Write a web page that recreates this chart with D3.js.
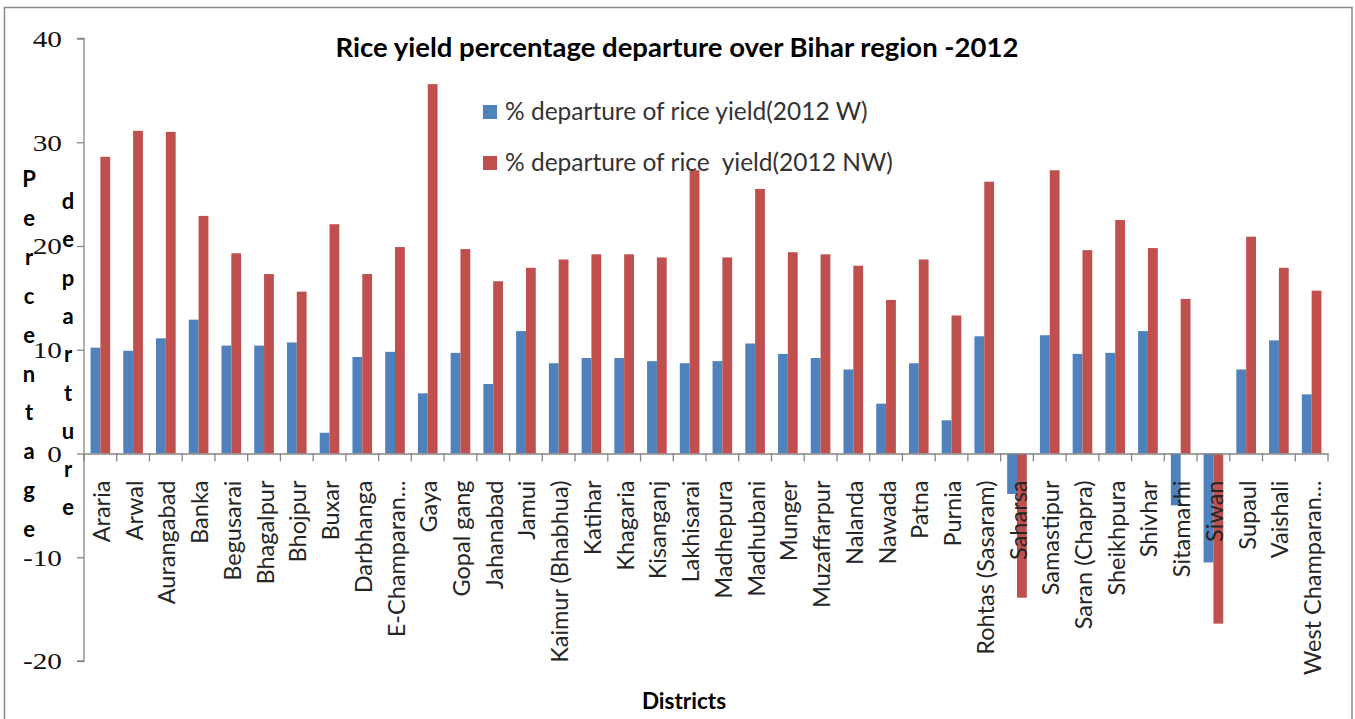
<!DOCTYPE html>
<html>
<head>
<meta charset="utf-8">
<script src="https://cdn.jsdelivr.net/npm/d3@7"></script>
<style>
html,body{margin:0;padding:0;background:#fff;}
svg{display:block;}
</style>
</head>
<body>
<svg id="chart" width="1355" height="719"></svg>
<script>
const districts = ["Araria","Arwal","Aurangabad","Banka","Begusarai","Bhagalpur","Bhojpur","Buxar","Darbhanga","E-Champaran...","Gaya","Gopal gang","Jahanabad","Jamui","Kaimur (Bhabhua)","Katihar","Khagaria","Kisanganj","Lakhisarai","Madhepura","Madhubani","Munger","Muzaffarpur","Nalanda","Nawada","Patna","Purnia","Rohtas (Sasaram)","Saharsa","Samastipur","Saran (Chapra)","Sheikhpura","Shivhar","Sitamarhi","Siwan","Supaul","Vaishali","West Champaran..."];
const yieldW = [10.2,9.9,11.1,12.9,10.4,10.4,10.7,2.0,9.3,9.8,5.8,9.7,6.7,11.8,8.7,9.2,9.2,8.9,8.7,8.9,10.6,9.6,9.2,8.1,4.8,8.7,3.2,11.3,-3.9,11.4,9.6,9.7,11.8,-5.0,-10.5,8.1,10.9,5.7];
const yieldNW = [28.6,31.1,31.0,22.9,19.3,17.3,15.6,22.1,17.3,19.9,35.6,19.7,16.6,17.9,18.7,19.2,19.2,18.9,27.3,18.9,25.5,19.4,19.2,18.1,14.8,18.7,13.3,26.2,-13.9,27.3,19.6,22.5,19.8,14.9,-16.4,20.9,17.9,15.7];
const seriesNames = ["% departure of rice yield(2012 W)","% departure of rice  yield(2012 NW)"];
const yTicks = [-20,-10,0,10,20,30,40];
const titleText = "Rice yield percentage departure over Bihar region -2012";
const yTitle1 = "Percentage";
const yTitle2 = "departure";
const xTitle = "Districts";

const colors = ["#4F81BD","#C0504D"];
const svg = d3.select("#chart");
const L = 84, R = 1328, T = 38.5, B = 661;

// outer border
svg.append("rect").attr("x",4.5).attr("y",7.5).attr("width",1347.5).attr("height",720)
  .attr("fill","none").attr("stroke","#8a8a8a").attr("stroke-width",1.5);

const x = d3.scaleBand().domain(districts).range([L,R]).paddingInner(0).paddingOuter(0);
const bw = x.bandwidth();
const x1 = d3.scaleBand().domain(["W","NW"]).range([bw*0.2,bw*0.8]);
const y = d3.scaleLinear().domain([-20,40]).range([B,T]);

const rows = districts.map((d,i)=>({d, W:yieldW[i], NW:yieldNW[i]}));

const g = svg.append("g");
["W","NW"].forEach((k,si)=>{
  g.selectAll("rect.s"+k).data(rows).enter().append("rect")
    .attr("x",r=>x(r.d)+x1(k))
    .attr("width",x1.bandwidth())
    .attr("y",r=>y(Math.max(0,r[k])))
    .attr("height",r=>Math.abs(y(r[k])-y(0)))
    .attr("fill",colors[si]);
});

// y axis
const yAxis = d3.axisLeft(y).tickValues(yTicks).tickSize(7).tickPadding(0).tickFormat(d=>String(d));
const ya = svg.append("g").attr("transform",`translate(${L},0)`).call(yAxis);
ya.select(".domain").attr("stroke","#868686").attr("stroke-width",1.3).attr("d",`M-7,${T}H0V${B}H-7`);
ya.selectAll(".tick line").attr("stroke","#868686").attr("stroke-width",1.3);
ya.selectAll(".tick text").attr("x",-22/1.22).attr("dy","0.33em")
  .attr("transform","scale(1.22,1)")
  .attr("font-family","'Liberation Serif', serif").attr("font-size",24).attr("fill","#111");

// x axis at zero
const xAxis = d3.axisBottom(x).tickSize(0).tickFormat(d=>d);
const xa = svg.append("g").attr("transform",`translate(0,${y(0)})`).call(xAxis);
xa.select(".domain").attr("stroke","#868686").attr("stroke-width",1.3);
xa.selectAll(".tick text")
  .attr("transform","translate(9.5,27) rotate(-90)")
  .attr("x",0).attr("y",0).attr("dy",0)
  .attr("text-anchor","end")
  .attr("font-family","Lato, sans-serif").attr("font-size",23.5).attr("fill","#262626");
// category separators
const seps = d3.range(districts.length+1).map(i=>L+i*bw);
xa.selectAll("line.sep").data(seps).enter().append("line").attr("class","sep")
  .attr("x1",d=>d).attr("x2",d=>d).attr("y1",0).attr("y2",8)
  .attr("stroke","#868686").attr("stroke-width",1.3);

// title
svg.append("text").attr("x",677).attr("y",57).attr("text-anchor","middle")
  .attr("font-family","Lato, sans-serif").attr("font-weight","bold").attr("font-size",27.5)
  .attr("fill","#000").text(titleText);

// legend
const lg = svg.append("g");
seriesNames.forEach((s,i)=>{
  const yy = 105 + i*51;
  lg.append("rect").attr("x",483).attr("y",yy).attr("width",14).attr("height",14).attr("fill",colors[i]);
  lg.append("text").attr("x",505).attr("y",yy+15).attr("font-family","Lato, sans-serif")
    .attr("font-size",24.5).attr("fill","#333").style("white-space","pre").attr("xml:space","preserve").text(s);
});

// y axis titles (stacked letters)
yTitle1.split("").forEach((c,i)=>{
  svg.append("text").attr("x",29).attr("y",187+i*38.9).attr("text-anchor","middle")
    .attr("font-family","Lato, sans-serif").attr("font-weight","bold").attr("font-size",22).attr("fill","#000").text(c);
});
yTitle2.split("").forEach((c,i)=>{
  svg.append("text").attr("x",68).attr("y",209+i*38.3).attr("text-anchor","middle")
    .attr("font-family","Lato, sans-serif").attr("font-weight","bold").attr("font-size",22).attr("fill","#000").text(c);
});

// x title
svg.append("text").attr("x",684).attr("y",709).attr("text-anchor","middle")
  .attr("font-family","Lato, sans-serif").attr("font-weight","bold").attr("font-size",22.5).attr("fill","#000").text(xTitle);
</script>
</body>
</html>
